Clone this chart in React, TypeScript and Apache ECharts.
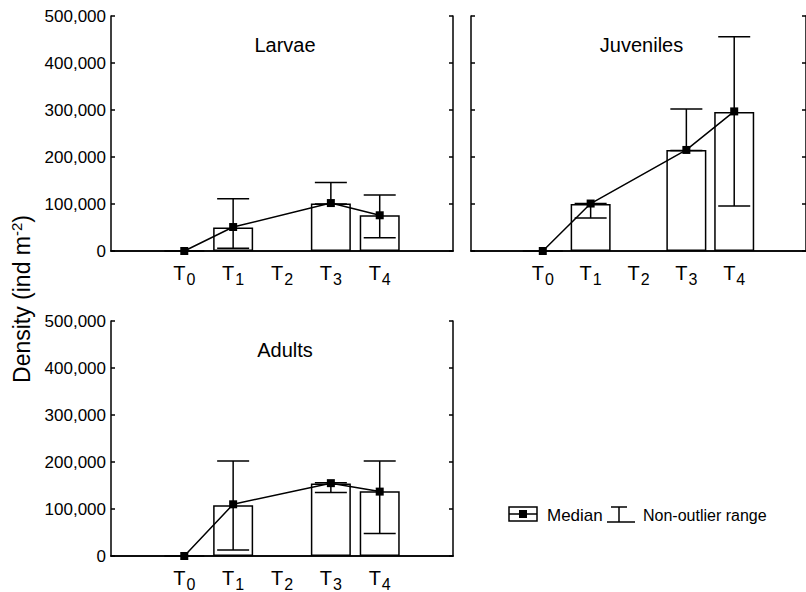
import React, { useEffect, useRef } from "react";
import * as echarts from "echarts";

// ---------- data ----------
const categories = ["T0", "T1", "T2", "T3", "T4"];
const yTicks = [0, 100000, 200000, 300000, 400000, 500000];

const panelNames = ["Larvae", "Juveniles", "Adults"];

// bar heights (mean)
const larvaeBar = [0, 50000, null, 101000, 76000];
const juvenilesBar = [0, 100000, null, 215000, 296000];
const adultsBar = [0, 108000, null, 154000, 138000];

// medians
const larvaeMedian = [0, 51000, null, 102000, 76000];
const juvenilesMedian = [0, 101000, null, 215000, 297000];
const adultsMedian = [0, 110000, null, 155000, 137000];

// non-outlier range (low / high)
const larvaeLow = [null, 6000, null, 100000, 28000];
const larvaeHigh = [null, 111000, null, 146000, 119000];
const juvenilesLow = [null, 70000, null, 214000, 96000];
const juvenilesHigh = [null, 101000, null, 302000, 456000];
const adultsLow = [null, 13000, null, 135000, 48000];
const adultsHigh = [null, 202000, null, 156000, 202000];

// ---------- layout ----------
const FONT = "'Liberation Sans', Arial, sans-serif";
const axisCats = ["", ...categories, " "];

const grids = [
  { left: 111, top: 16, width: 342, height: 235 },
  { left: 471, top: 16, width: 343, height: 235 },
  { left: 111, top: 321, width: 342, height: 235 },
];

const panels = [
  { bar: larvaeBar, med: larvaeMedian, low: larvaeLow, high: larvaeHigh, labels: true },
  { bar: juvenilesBar, med: juvenilesMedian, low: juvenilesLow, high: juvenilesHigh, labels: false },
  { bar: adultsBar, med: adultsMedian, low: adultsLow, high: adultsHigh, labels: true },
];

function buildOption() {
  const xAxis: any[] = [];
  const yAxis: any[] = [];
  const series: any[] = [];
  const graphic: any[] = [];
  const lineStyle = { color: "#000", width: 1.5 };

  panels.forEach((p, i) => {
    // bottom x axis
    xAxis.push({
      type: "category",
      gridIndex: i,
      data: axisCats,
      position: "bottom",
      boundaryGap: true,
      axisLine: { lineStyle },
      axisTick: { inside: true, length: 4, alignWithLabel: true, interval: 0, lineStyle },
      axisLabel: {
        interval: 0,
        margin: 8,
        formatter: (v: string) => (v.startsWith("T") ? `{t|T}{s|${v.slice(1)}}` : ""),
        rich: {
          t: { fontSize: 20, fontFamily: FONT, color: "#000" },
          s: { fontSize: 16, fontFamily: FONT, color: "#000", padding: [12, 0, 0, 1] },
        },
      },
    });
    // top x axis (ticks only)
    xAxis.push({
      type: "category",
      gridIndex: i,
      data: axisCats,
      position: "top",
      boundaryGap: true,
      axisLine: { lineStyle },
      axisTick: { inside: true, length: 4, alignWithLabel: true, interval: 0, lineStyle },
      axisLabel: { show: false },
    });
    yAxis.push({
      type: "value",
      gridIndex: i,
      min: yTicks[0],
      max: yTicks[yTicks.length - 1],
      interval: yTicks[1] - yTicks[0],
      position: "left",
      axisLine: { show: true, lineStyle },
      axisTick: { show: true, inside: true, length: 4, lineStyle },
      splitLine: { show: false },
      axisLabel: {
        show: p.labels,
        margin: 5,
        fontSize: 17,
        fontFamily: FONT,
        color: "#000",
        formatter: (v: number) => v.toLocaleString("en-US"),
      },
    });
    yAxis.push({
      type: "value",
      gridIndex: i,
      min: yTicks[0],
      max: yTicks[yTicks.length - 1],
      interval: yTicks[1] - yTicks[0],
      position: "right",
      axisLine: { show: true, lineStyle },
      axisTick: { show: true, inside: true, length: 4, lineStyle },
      splitLine: { show: false },
      axisLabel: { show: false },
    });

    const xIdx = i * 2;
    const yIdx = i * 2;

    series.push({
      type: "bar",
      xAxisIndex: xIdx,
      yAxisIndex: yIdx,
      barWidth: 40,
      z: 2,
      data: categories.map((c, k) => [c, p.bar[k]]),
      itemStyle: { color: "#fff", borderColor: "#000", borderWidth: 1.5 },
      silent: true,
    });
    series.push({
      type: "custom",
      xAxisIndex: xIdx,
      yAxisIndex: yIdx,
      z: 5,
      data: categories
        .map((c, k) => [c, p.low[k], p.high[k]])
        .filter((d) => d[1] !== null),
      renderItem: (params: any, api: any) => {
        const x = api.value(0);
        const top = api.coord([x, api.value(2)]);
        const bot = api.coord([x, api.value(1)]);
        const hw = 16;
        const st = { stroke: "#000", lineWidth: 1.5 };
        return {
          type: "group",
          children: [
            { type: "line", shape: { x1: top[0], y1: top[1], x2: bot[0], y2: bot[1] }, style: st },
            { type: "line", shape: { x1: top[0] - hw, y1: top[1], x2: top[0] + hw, y2: top[1] }, style: st },
            { type: "line", shape: { x1: bot[0] - hw, y1: bot[1], x2: bot[0] + hw, y2: bot[1] }, style: st },
          ],
        };
      },
      silent: true,
    });
    series.push({
      type: "line",
      xAxisIndex: xIdx,
      yAxisIndex: yIdx,
      z: 6,
      data: categories.map((c, k) => [c, p.med[k]]),
      connectNulls: true,
      symbol: "rect",
      symbolSize: 8,
      showSymbol: true,
      itemStyle: { color: "#000" },
      lineStyle: { color: "#000", width: 1.5 },
      silent: true,
    });

    const g = grids[i];
    graphic.push({
      type: "text",
      x: g.left + g.width / 2 + (i === 1 ? -1 : 3),
      y: g.top + 29,
      style: {
        text: panelNames[i],
        font: `20px ${FONT}`,
        fill: "#000",
        align: "center",
        verticalAlign: "middle",
        textAlign: "center",
        textVerticalAlign: "middle",
      },
    });
  });

  // y-axis title
  graphic.push({
    type: "text",
    x: 22,
    y: 299,
    rotation: Math.PI / 2,
    style: {
      text: "{a|Density (ind m}{b|-2}{a|)}",
      rich: {
        a: { fontSize: 23, fontFamily: FONT, color: "#000" },
        b: { fontSize: 15, fontFamily: FONT, color: "#000", padding: [0, 0, 12, 0] },
      },
      align: "center",
      verticalAlign: "middle",
      textAlign: "center",
      textVerticalAlign: "middle",
    },
  });

  // legend
  const ly = 514;
  const lst = { stroke: "#000", lineWidth: 1.5 };
  graphic.push(
    { type: "rect", shape: { x: 509, y: ly - 7, width: 28, height: 14 }, style: { fill: "#fff", ...lst } },
    { type: "line", shape: { x1: 509, y1: ly, x2: 537, y2: ly }, style: lst },
    { type: "rect", shape: { x: 519, y: ly - 4, width: 8, height: 8 }, style: { fill: "#000" } },
    {
      type: "text",
      x: 547,
      y: ly + 1,
      style: { text: "Median", font: `17px ${FONT}`, fill: "#000", verticalAlign: "middle", textVerticalAlign: "middle" },
    },
    { type: "line", shape: { x1: 611, y1: ly - 7, x2: 627, y2: ly - 7 }, style: lst },
    { type: "line", shape: { x1: 619, y1: ly - 7, x2: 619, y2: ly + 8 }, style: lst },
    { type: "line", shape: { x1: 607, y1: ly + 8, x2: 635, y2: ly + 8 }, style: lst },
    {
      type: "text",
      x: 643,
      y: ly + 1,
      style: {
        text: "Non-outlier range",
        font: `16px ${FONT}`,
        fill: "#000",
        verticalAlign: "middle",
        textVerticalAlign: "middle",
      },
    }
  );

  return {
    animation: false,
    backgroundColor: "#fff",
    grid: grids.map((g) => ({ ...g, containLabel: false })),
    xAxis,
    yAxis,
    series,
    graphic,
  };
}

export default function App() {
  const ref = useRef<HTMLDivElement>(null);
  useEffect(() => {
    if (!ref.current) return;
    const chart = echarts.init(ref.current, null, { renderer: "svg" });
    chart.setOption(buildOption() as any);
    return () => chart.dispose();
  }, []);
  return (
    <div
      ref={ref}
      style={{ position: "absolute", left: 0, top: 0, width: 806, height: 592, background: "#fff" }}
    />
  );
}
